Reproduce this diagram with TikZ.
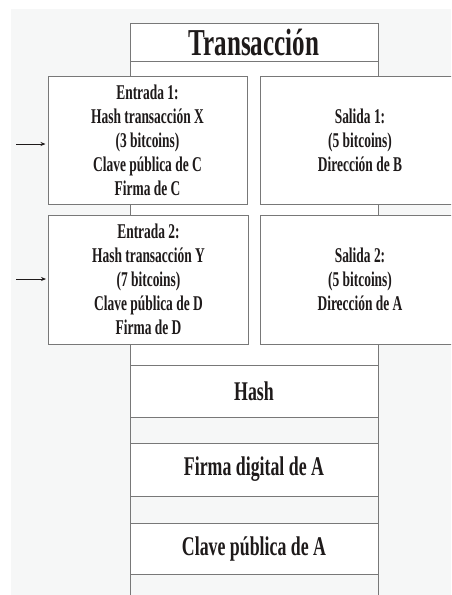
\documentclass[tikz,border=0pt]{standalone}
\usepackage{fontspec}
\usetikzlibrary{arrows.meta}
\newfontfamily\boxfont[FakeStretch=0.64]{Liberation Serif}
\newfontfamily\regfont[FakeStretch=0.66]{Liberation Serif}
\definecolor{bg}{RGB}{246,247,247}
\definecolor{ln}{RGB}{120,120,120}
\definecolor{tx}{RGB}{30,26,26}
\tikzset{
  box/.style={draw=ln, line width=1pt, fill=white, inner sep=0pt, text=tx, align=center},
  iobox/.style={box, font=\boxfont\bfseries\fontsize{21}{24}\selectfont},
  rowbox/.style={box, minimum width=248pt, font=\regfont\bfseries\fontsize{27}{30}\selectfont},
  inarrow/.style={draw=tx, line width=0.9pt, -{Stealth[length=5pt,width=4pt]}, shorten >=2pt}
}
\begin{document}
\begin{tikzpicture}[x=1pt,y=-1pt]
\clip (0,0) rectangle (451,595);
\fill[white] (0,0) rectangle (451,595);
\fill[bg] (11,9) rectangle (451,595);
% column
\fill[white] (130,23) rectangle (378,417);
\draw[ln, line width=1pt] (130,23) -- (130,596);
\draw[ln, line width=1pt] (378,23) -- (378,596);
% title
\node[box, minimum width=248pt, minimum height=38pt, font=\regfont\bfseries\fontsize{38}{40}\selectfont] (title) at (254,42) {Transacción};
% inputs
\node[iobox, minimum width=199pt, minimum height=128pt] (e1) at (147.5,140)
  {Entrada 1:\\Hash transacción X\\(3 bitcoins)\\Clave pública de C\\Firma de C};
\node[iobox, minimum width=200pt, minimum height=129pt] (e2) at (148.5,279.5)
  {Entrada 2:\\Hash transacción Y\\(7 bitcoins)\\Clave pública de D\\Firma de D};
% outputs
\node[iobox, minimum width=200pt, minimum height=128pt] (s1) at (360,140)
  {Salida 1:\\(5 bitcoins)\\Dirección de B};
\node[iobox, minimum width=200pt, minimum height=129pt] (s2) at (360,279.5)
  {Salida 2:\\(5 bitcoins)\\Dirección de A};
% rows
\node[rowbox, minimum height=52pt] (hash) at (254,391) {Hash};
\node[rowbox, minimum height=53pt] (firma) at (254,469.5) {Firma digital de A};
\node[rowbox, minimum height=51pt] (clave) at (254,548.5) {Clave pública de A};
% arrows
\coordinate (a1) at (16,144);
\coordinate (a2) at (16,279);
\draw[inarrow] (a1) -- (a1 -| e1.west);
\draw[inarrow] (a2) -- (a2 -| e2.west);
\end{tikzpicture}
\end{document}
